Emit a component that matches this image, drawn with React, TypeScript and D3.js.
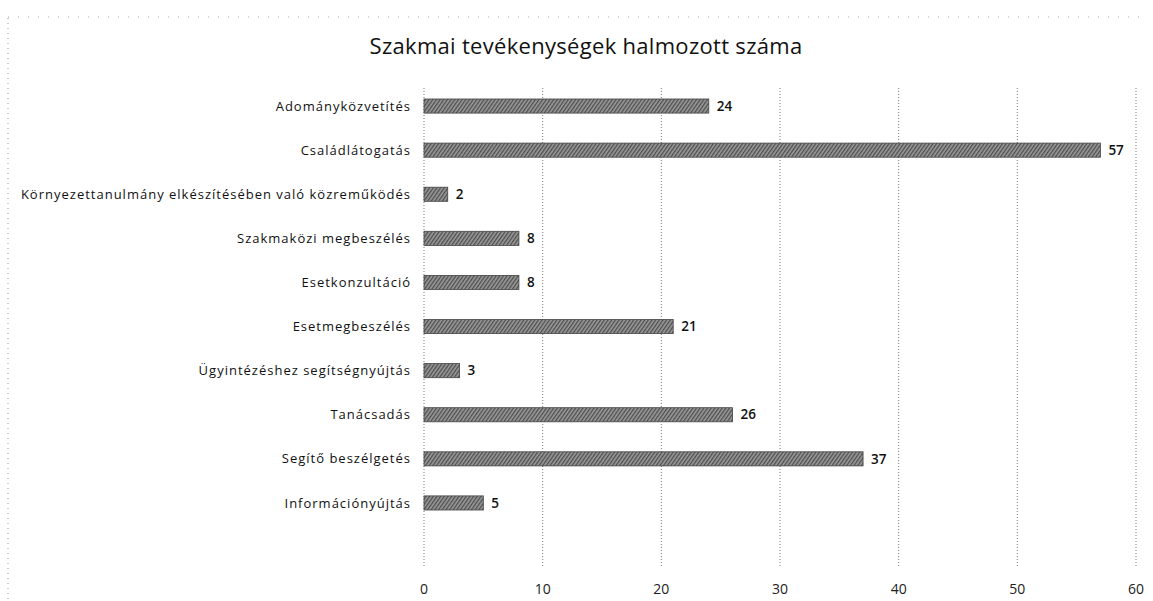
import React, { useEffect, useRef } from 'react';
import * as d3 from 'd3';

// activity categories, top to bottom
const categories = [
  'Adományközvetítés',
  'Családlátogatás',
  'Környezettanulmány elkészítésében való közreműködés',
  'Szakmaközi megbeszélés',
  'Esetkonzultáció',
  'Esetmegbeszélés',
  'Ügyintézéshez segítségnyújtás',
  'Tanácsadás',
  'Segítő beszélgetés',
  'Információnyújtás',
];
const counts = [24, 57, 2, 8, 8, 21, 3, 26, 37, 5];
const xTicks = [0, 10, 20, 30, 40, 50, 60];
const title = 'Szakmai tevékenységek halmozott száma';

const FONT = '"Open Sans", "Noto Sans", sans-serif';

const App = () => {
  const svgRef = useRef<SVGSVGElement>(null);

  useEffect(() => {
    const svg = d3.select(svgRef.current);
    svg.selectAll('*').remove();

    const W = 1153;
    const H = 601;
    const left = 424;
    const right = 1136;
    const top = 84;
    const gridBottom = 568;

    // hatched fill like the printed bars
    const defs = svg.append('defs');
    const pat = defs
      .append('pattern')
      .attr('id', 'hatch')
      .attr('patternUnits', 'userSpaceOnUse')
      .attr('width', 3)
      .attr('height', 3)
      .attr('patternTransform', 'rotate(35)');
    pat.append('rect').attr('width', 3).attr('height', 3).attr('fill', '#9a9a9a');
    pat.append('rect').attr('width', 1.3).attr('height', 3).attr('fill', '#4d4d4d');

    svg.append('rect').attr('width', W).attr('height', H).attr('fill', '#fff');

    // scanned frame edges
    svg
      .append('line')
      .attr('x1', 8).attr('x2', 8).attr('y1', 18).attr('y2', H)
      .attr('stroke', '#999').attr('stroke-dasharray', '1,4');
    svg
      .append('line')
      .attr('x1', 8).attr('x2', W - 10).attr('y1', 17).attr('y2', 17)
      .attr('stroke', '#aaa').attr('stroke-dasharray', '1,9');

    const x = d3.scaleLinear().domain([0, 60]).range([left, right]);
    const y = d3
      .scaleBand<string>()
      .domain(categories)
      .range([top, top + 44.1 * categories.length])
      .paddingInner(0.68)
      .paddingOuter(0.34);

    // vertical dotted gridlines
    svg
      .append('g')
      .selectAll('line')
      .data(xTicks)
      .join('line')
      .attr('x1', (d) => x(d))
      .attr('x2', (d) => x(d))
      .attr('y1', top + 4)
      .attr('y2', gridBottom)
      .attr('stroke', '#777')
      .attr('stroke-width', 1)
      .attr('stroke-dasharray', '1,2');

    // x tick labels
    svg
      .append('g')
      .selectAll('text')
      .data(xTicks)
      .join('text')
      .attr('x', (d) => x(d))
      .attr('y', 594)
      .attr('text-anchor', 'middle')
      .attr('font-family', FONT)
      .attr('font-size', 14)
      .attr('fill', '#222')
      .text((d) => d);

    // bars
    svg
      .append('g')
      .selectAll('rect')
      .data(categories)
      .join('rect')
      .attr('x', x(0))
      .attr('y', (d) => y(d)!)
      .attr('width', (_, i) => x(counts[i]) - x(0))
      .attr('height', y.bandwidth())
      .attr('fill', 'url(#hatch)')
      .attr('stroke', '#444')
      .attr('stroke-width', 0.8);

    // value labels
    svg
      .append('g')
      .selectAll('text')
      .data(categories)
      .join('text')
      .attr('x', (_, i) => x(counts[i]) + 8)
      .attr('y', (d) => y(d)! + y.bandwidth() / 2)
      .attr('dy', '0.35em')
      .attr('font-family', FONT)
      .attr('font-size', 13.5)
      .attr('font-weight', 600)
      .attr('fill', '#111')
      .text((_, i) => counts[i]);

    // category labels
    svg
      .append('g')
      .selectAll('text')
      .data(categories)
      .join('text')
      .attr('x', 411)
      .attr('y', (d) => y(d)! + y.bandwidth() / 2)
      .attr('dy', '0.35em')
      .attr('text-anchor', 'end')
      .attr('font-family', FONT)
      .attr('font-size', 13)
      .attr('letter-spacing', 1)
      .attr('fill', '#111')
      .text((d) => d);

    // title
    svg
      .append('text')
      .attr('x', 586)
      .attr('y', 54)
      .attr('text-anchor', 'middle')
      .attr('font-family', FONT)
      .attr('font-size', 22)
      .attr('letter-spacing', 0.3)
      .attr('fill', '#111')
      .text(title);
  }, []);

  return (
    <svg
      ref={svgRef}
      width={1153}
      height={601}
      style={{ position: 'absolute', left: 0, top: 0 }}
    />
  );
};

export default App;
